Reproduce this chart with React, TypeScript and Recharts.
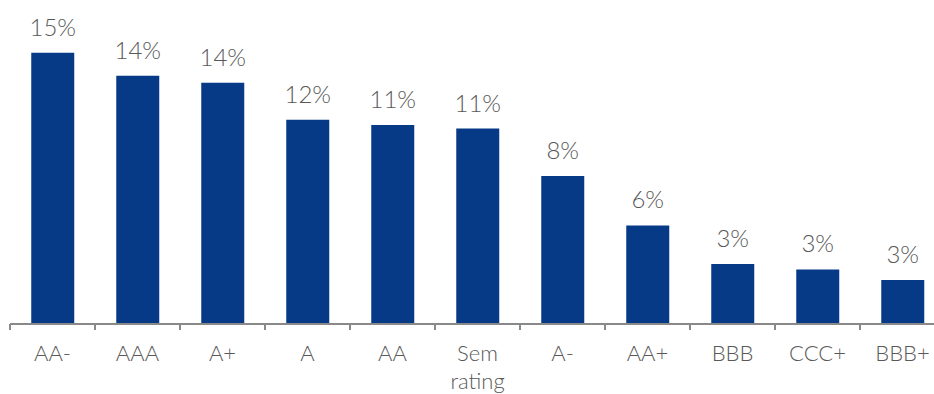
import { BarChart, Bar, XAxis, YAxis, LabelList } from 'recharts'

const ratings = ['AA-', 'AAA', 'A+', 'A', 'AA', 'Sem rating', 'A-', 'AA+', 'BBB', 'CCC+', 'BBB+']
const shares = [15.4, 14.1, 13.7, 11.6, 11.3, 11.1, 8.4, 5.6, 3.4, 3.1, 2.5]

const data = ratings.map((rating, i) => ({ rating, share: shares[i] }))

const CHART_W = 945
const LEFT = 10
const HALF_BAND = (CHART_W - LEFT) / ratings.length / 2

function RatingTick(props: any) {
  const { x, y, payload } = props
  const words = String(payload.value).split(' ')
  const axisY = y - 8
  return (
    <g>
      <line x1={x - HALF_BAND} x2={x - HALF_BAND} y1={axisY} y2={axisY + 6} stroke="#898989" strokeWidth={2} />
      <text x={x} y={y} textAnchor="middle" fill="#595959" fontSize={22} fontWeight={300} fontFamily="Lato">
        {words.map((w, i) => (
          <tspan key={i} x={x} dy={i === 0 ? 29 : 28}>{w}</tspan>
        ))}
      </text>
    </g>
  )
}

export default function App() {
  return (
    <div style={{ position: 'absolute', left: 0, top: 0, width: 934, height: 394, overflow: 'hidden', background: '#fff' }}>
      <BarChart width={CHART_W} height={394} data={data} margin={{ top: 7, right: 0, bottom: 0, left: LEFT }} barCategoryGap="25%">
        <XAxis
          dataKey="rating"
          height={70}
          interval={0}
          tickLine={false}
          axisLine={{ stroke: '#898989', strokeWidth: 2 }}
          tick={<RatingTick />}
        />
        <YAxis hide domain={[0, 18]} />
        <Bar dataKey="share" fill="#063A87" isAnimationActive={false}>
          <LabelList
            dataKey="share"
            position="top"
            offset={17}
            fill="#595959"
            fontSize={24}
            fontWeight={300}
            fontFamily="Lato"
            formatter={(v: any) => `${Math.round(Number(v))}%`}
          />
        </Bar>
      </BarChart>
    </div>
  )
}
